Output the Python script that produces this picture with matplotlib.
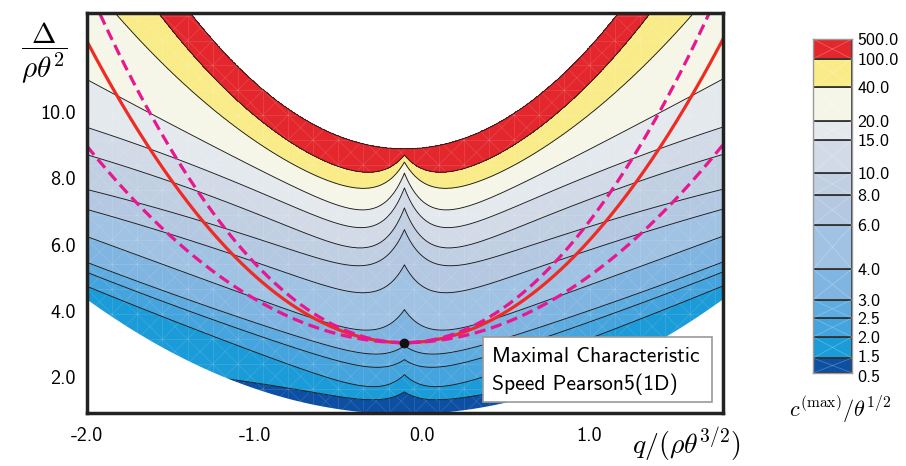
import numpy as np
import matplotlib
matplotlib.use("Agg")
import matplotlib.pyplot as plt
from matplotlib.patches import Rectangle
from matplotlib.collections import LineCollection
from matplotlib.transforms import ScaledTranslation

plt.rcParams['mathtext.fontset'] = 'cm'

# colour bands (lower bounds ... upper bound)
band_levels = [0.5, 1.5, 2.0, 2.5, 3.0, 4.0, 6.0, 8.0, 10.0, 15.0, 20.0, 40.0, 100.0, 500.0]
band_colors = ['#0c4fa3', '#1b9bd7', '#45a4dd', '#5dabdf', '#80b5e2', '#a0c2e3',
               '#b4c8e2', '#c1cfe3', '#d2dae7', '#e4e9ee', '#f6f6e8', '#f9ec88', '#e3272d']

# where each contour line (1.5 ... 500) crosses
q_cusp = -0.105
cusp_delta = [1.55, 2.08, 2.53, 2.95, 4.04, 5.39, 6.45, 7.11, 7.71, 8.16, 8.49, 8.70, 8.89]
near_delta = [1.33, 1.75, 2.35, 2.74, 3.43, 4.55, 5.36, 5.90, 6.51, 7.05, 7.70, 8.20, 9.07]   # |q-q_cusp| = 0.27
mid_delta = [1.60, 2.26, 2.83, 3.20, 3.90, 5.00, 5.75, 6.40, 7.05, 7.65, 8.30, 8.90, 9.85]   # |q-q_cusp| = 0.62
outer_dq = [1.00, 1.89, 1.89, 1.89, 1.89, 1.89, 1.89, 1.89, 1.89, 1.89, 1.73, 1.47, 1.28]
outer_delta = [1.90, 4.73, 5.15, 5.45, 6.23, 7.05, 7.65, 8.70, 9.52, 10.96, 13.0, 13.0, 13.0]

# realizability boundary and the three reference parabolas
domain_base, domain_curv = 0.9, 0.96
vertex_delta = 3.04
solid_curv = 2.53
dashed_curvs = [3.0, 1.65]

x_ticks = [-2.0, -1.0, 0.0, 1.0]
y_ticks = [2.0, 4.0, 6.0, 8.0, 10.0]
legend_lines = ['Maximal Characteristic', 'Speed Pearson5(1D)']

# colorbar cell edges (fraction of bar height)
cbar_pos = [0, 0.045, 0.108, 0.165, 0.219, 0.311, 0.443, 0.533, 0.599, 0.698, 0.754, 0.856, 0.94, 1.0]

W = 0.14
NEAR, MID = 0.27, 0.62


def basis(x):
	x = np.abs(x)
	return np.array([np.ones_like(x), x, x ** 2, np.exp(-x / W)])


def level_curve(i, dq):
	xs = np.array([0.0, NEAR, MID, outer_dq[i]])
	A = basis(xs).T
	coef = np.linalg.solve(A, [cusp_delta[i], near_delta[i], mid_delta[i], outer_delta[i]])
	return coef @ basis(dq)


q = np.linspace(-2.0, 1.8, 1200)
d = np.linspace(0.9, 13.2, 900)
dq = np.abs(q - q_cusp)
line_levels = band_levels[1:]
curves = np.array([level_curve(i, dq) for i in range(len(line_levels))])
curves = np.maximum.accumulate(curves + 1e-4 * np.arange(len(curves))[:, None], axis=0)

idx = np.arange(len(line_levels))
T = np.empty((len(d), len(q)))
for j in range(len(q)):
	T[:, j] = np.interp(d, curves[:, j], idx, left=-0.5, right=len(idx) - 0.5)
V = np.interp(T, np.arange(-1, len(idx) + 1), [1.0] + line_levels + [600.0])

fig = plt.figure(figsize=(9.06, 4.66), dpi=100)
ax = fig.add_axes([87 / 906, 1 - 413 / 466, 636 / 906, 400 / 466])

ax.contourf(q, d, V, levels=band_levels, colors=band_colors, zorder=1)

# faint white triangulation texture seen over the filled field
gq = np.arange(-2.0, 1.9, 0.15)
gd = np.arange(0.9, 13.1, 0.75)
segs = [[(x, gd[0]), (x, gd[-1])] for x in gq] + [[(gq[0], y), (gq[-1], y)] for y in gd]
for x0, x1 in zip(gq[:-1], gq[1:]):
	for y0, y1 in zip(gd[:-1], gd[1:]):
		segs.append([(x0, y0), (x1, y1)])
		segs.append([(x0, y1), (x1, y0)])
ax.add_collection(LineCollection(segs, colors='white', linewidths=0.5, alpha=0.15, zorder=1.5))

ax.contour(q, d, V, levels=line_levels, colors='#1a1a1a', linewidths=0.65, zorder=2)

# white region outside realizability
ax.fill_between(q, 0, domain_base + domain_curv * (q - q_cusp) ** 2, color='white', lw=0, zorder=3)

ax.plot(q, vertex_delta + solid_curv * (q - q_cusp) ** 2, color='#ee2b24', lw=2.3, zorder=4)
for c in dashed_curvs:
	ax.plot(q, vertex_delta + c * (q - q_cusp) ** 2, color='#e8168f', lw=2.3,
			dashes=(3.5, 1.8), zorder=4)
ax.plot([q_cusp], [vertex_delta], 'o', color='#111111', ms=6, zorder=5)

ax.set_xlim(-2.0, 1.797)
ax.set_ylim(0.92, 12.98)
ax.set_xticks(x_ticks)
ax.set_xticklabels([f'{v:.1f}' for v in x_ticks], fontfamily='cmss10', fontsize=14.5)
ax.set_yticks(y_ticks)
ax.set_yticklabels([f'{v:.1f}' for v in y_ticks], fontfamily='cmss10', fontsize=14.5)
ax.tick_params(length=0)
ax.tick_params(axis='x', pad=10)
ax.tick_params(axis='y', pad=8)
for s in ax.spines.values():
	s.set_linewidth(2.5)
	s.set_color('#222222')
	s.set_zorder(10)

# legend box
fig.patches.append(Rectangle((483 / 906, 1 - 402 / 466), 229 / 906, 65 / 466, transform=fig.transFigure,
							 facecolor='white', edgecolor='#9a9a9a', lw=1.2, zorder=6))
fig.text(492 / 906, 1 - 357 / 466, legend_lines[0], fontfamily='cmss10', fontsize=15.5, va='center', zorder=7)
fig.text(492 / 906, 1 - 384 / 466, legend_lines[1], fontfamily='cmss10', fontsize=15.5, va='center', zorder=7)

# axis labels
fig.text(44 / 906, 1 - 53 / 466, r'$\dfrac{\Delta}{\rho\theta^2}$', fontsize=21, ha='center', va='center')
fig.text(686 / 906, 1 - 445 / 466, r'$q/(\rho\theta^{3/2})$', fontsize=20, ha='center', va='center')
fig.text(840 / 906, 1 - 410 / 466, r'$c^{(\max)}/\theta^{1/2}$', fontsize=16, ha='center', va='center')

# colorbar
cax = fig.add_axes([813 / 906, 1 - 373 / 466, 39 / 906, 334 / 466])
heights = np.diff(cbar_pos)
cax.bar(0.5, heights, bottom=cbar_pos[:-1], width=1, color=band_colors, edgecolor='#333333', lw=1.3)
for y0, y1 in zip(cbar_pos[:-1], cbar_pos[1:]):
	cax.plot([0, 1], [y0, y1], color='white', lw=0.6, alpha=0.25)
	cax.plot([0, 1], [y1, y0], color='white', lw=0.6, alpha=0.25)
cax.set_xlim(0, 1)
cax.set_ylim(0, 1)
cax.set_xticks([])
cax.yaxis.tick_right()
cax.set_yticks(cbar_pos)
cax.set_yticklabels([f'{v:.1f}' for v in band_levels], fontfamily='cmss10', fontsize=13)
cax.tick_params(length=0, pad=4)
tl = cax.get_yticklabels()
tl[0].set_transform(tl[0].get_transform() + ScaledTranslation(0, -3 / 100, fig.dpi_scale_trans))
tl[1].set_transform(tl[1].get_transform() + ScaledTranslation(0, 2 / 100, fig.dpi_scale_trans))
for s in cax.spines.values():
	s.set_color('#999999')
	s.set_linewidth(1.0)

fig.savefig('out.png', dpi=100)
